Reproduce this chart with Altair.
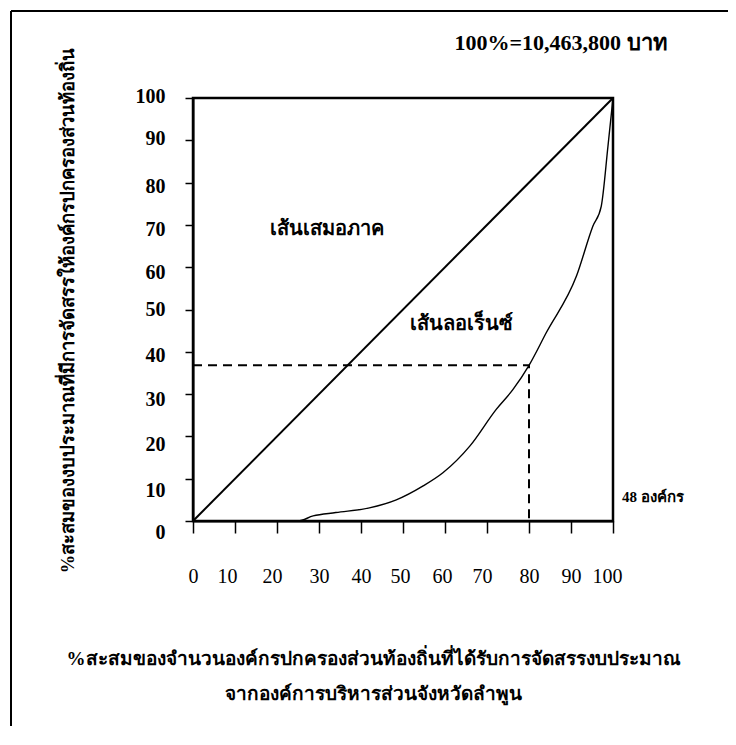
import altair as alt
import pandas as pd

# Data
lorenz_x = [0, 10, 20, 25, 28.6, 34, 42, 48.4, 54.8, 59.5, 65.9, 72.2, 76.2, 80, 84.1, 91.3, 95.2, 97.2, 98.8, 100]
lorenz_y = [0, 0, 0, 0, 1.2, 2.0, 3.1, 5.0, 8.3, 11.4, 17.7, 26.4, 31.1, 36.8, 44.5, 57.9, 69.7, 74.4, 88.6, 100]
equal_x = [0, 100]
equal_y = [0, 100]
guide_x = [0, 80, 80]
guide_y = [36.8, 36.8, 0]
ticks = [0, 10, 20, 30, 40, 50, 60, 70, 80, 90, 100]

y_title = "%สะสมของงบประมาณที่มีการจัดสรรให้องค์กรปกครองส่วนท้องถิ่น"
x_title = ["%สะสมของจำนวนองค์กรปกครองส่วนท้องถิ่นที่ได้รับการจัดสรรงบประมาณ",
           "จากองค์การบริหารส่วนจังหวัดลำพูน"]
total_label = "100%=10,463,800 บาท"
equal_label = "เส้นเสมอภาค"
lorenz_label = "เส้นลอเร็นซ์"
count_label = "48 องค์กร"

FONT = "Liberation Serif"

lorenz_df = pd.DataFrame({"x": lorenz_x, "y": lorenz_y, "o": range(len(lorenz_x))})
equal_df = pd.DataFrame({"x": equal_x, "y": equal_y, "o": range(2)})
guide_df = pd.DataFrame({"x": guide_x, "y": guide_y, "o": range(3)})

xs = alt.Scale(domain=[0, 100], nice=False)
ys = alt.Scale(domain=[0, 100], nice=False)

x_label_shift = alt.ExprRef(expr=(
    "datum.value == 10 ? -8 : datum.value == 20 ? -5 : datum.value == 50 ? -3 : "
    "datum.value == 60 ? -3 : datum.value == 70 ? -5 : datum.value == 100 ? -6 : 0"))
y_label_shift = alt.ExprRef(expr=(
    "datum.value == 0 ? 11 : datum.value == 10 ? 12 : datum.value == 20 ? 8 : "
    "datum.value == 30 ? 5 : datum.value == 40 ? 4 : datum.value == 50 ? 0 : "
    "datum.value == 60 ? 5 : datum.value == 70 ? 5 : datum.value == 80 ? 4 : -2"))

x_axis = alt.Axis(values=ticks, grid=False, title=x_title, tickSize=12, tickWidth=1.5,
                  domainWidth=2, domainColor="black", tickColor="black",
                  labelFont=FONT, labelFontSize=20, labelColor="black", labelPadding=33,
                  labelOffset=x_label_shift, labelOverlap=False, labelFlush=False,
                  titleFont=FONT, titleFontSize=19, titleFontWeight="bold", titleColor="black",
                  titleX=180, titleY=128, titleAlign="center", titleBaseline="top",
                  titleLineHeight=35)
y_axis = alt.Axis(values=ticks, grid=False, title=y_title, tickSize=8, tickWidth=1.5,
                  domainWidth=2, domainColor="black", tickColor="black",
                  labelFont=FONT, labelFontSize=20, labelFontWeight="bold", labelColor="black",
                  labelPadding=20, labelOffset=y_label_shift, labelOverlap=False, labelFlush=False,
                  titleFont=FONT, titleFontSize=18.5, titleFontWeight="bold", titleColor="black",
                  titleAngle=270, titleX=-126, titleY=212, titleAlign="center",
                  titleBaseline="middle")

base_eq = alt.Chart(equal_df).mark_line(color="black", strokeWidth=2).encode(
    x=alt.X("x:Q", scale=xs, axis=x_axis),
    y=alt.Y("y:Q", scale=ys, axis=y_axis),
    order="o:Q",
)
lor = alt.Chart(lorenz_df).mark_line(color="black", strokeWidth=1.4, interpolate="monotone").encode(
    x=alt.X("x:Q", scale=xs), y=alt.Y("y:Q", scale=ys), order="o:Q"
)
guide = alt.Chart(guide_df).mark_line(color="black", strokeWidth=2, strokeDash=[9, 6]).encode(
    x=alt.X("x:Q", scale=xs), y=alt.Y("y:Q", scale=ys), order="o:Q"
)

ann_df = pd.DataFrame({"x": [32, 64], "y": [69, 46.5], "t": [equal_label, lorenz_label]})
ann = alt.Chart(ann_df).mark_text(font=FONT, fontSize=20, fontWeight="bold", color="black",
                                  align="center", baseline="middle").encode(
    x=alt.X("x:Q", scale=xs), y=alt.Y("y:Q", scale=ys), text="t:N"
)

total_txt = alt.Chart(pd.DataFrame({"t": [total_label]})).mark_text(
    font=FONT, fontSize=22, fontWeight="bold", color="black", align="center", baseline="middle"
).encode(x=alt.value(368), y=alt.value(-55), text="t:N")

count_txt = alt.Chart(pd.DataFrame({"t": [count_label]})).mark_text(
    font=FONT, fontSize=15, fontWeight="bold", color="black", align="left", baseline="middle"
).encode(x=alt.value(429), y=alt.value(399), text="t:N")

# plot box top and right edges
box = alt.Chart(pd.DataFrame({"a": [0]})).mark_rect(
    fill="transparent", stroke="black", strokeWidth=2.5
).encode(x=alt.value(0), x2=alt.value(420), y=alt.value(0), y2=alt.value(423))

# outer figure frame: left edge and top edge
frame_l = alt.Chart(pd.DataFrame({"a": [0]})).mark_rule(color="black", strokeWidth=2).encode(
    x=alt.value(-182), y=alt.value(-87), y2=alt.value(628)
)
frame_t = alt.Chart(pd.DataFrame({"a": [0]})).mark_rule(color="black", strokeWidth=2).encode(
    x=alt.value(-182), x2=alt.value(535), y=alt.value(-87)
)

chart = alt.layer(box, frame_l, frame_t, base_eq, lor, guide, ann, total_txt, count_txt).properties(
    width=420, height=423,
    autosize=alt.AutoSizeParams(type="none"),
    padding={"left": 185, "top": 90, "right": 115, "bottom": 205},
).configure_view(stroke=None).configure(background="white")

chart.save("out.html", embed_options={"renderer": "svg", "actions": False})
